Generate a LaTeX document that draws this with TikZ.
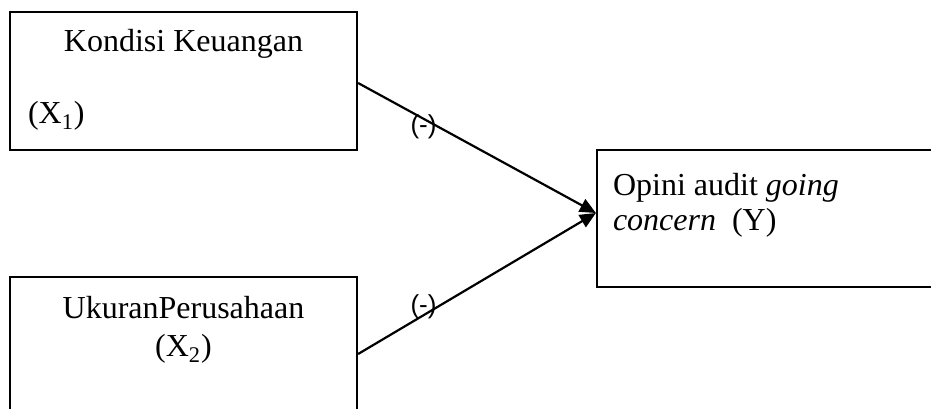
\documentclass[tikz,border=0pt]{standalone}
\usepackage{fontspec}
\setmainfont{Liberation Serif}
\newfontfamily\signfont{Liberation Sans}
\usetikzlibrary{positioning, arrows.meta}

\tikzset{
  varbox/.style={draw, line width=1.1pt, rectangle, inner sep=0pt},
  vartext/.style={font=\fontsize{16}{17.5}\selectfont, inner sep=0pt},
  sign/.style={font=\signfont\fontsize{13}{14}\selectfont, inner sep=0pt},
}

\begin{document}
\begin{tikzpicture}[x=0.5pt, y=-0.5pt, >={Triangle[length=8pt,width=7pt]}, line width=1.1pt]
  \useasboundingbox (0,0) rectangle (931,408);
  % independent variables
  \node[varbox, minimum width=173.5pt, minimum height=69pt] (kondisi) at (183.5,81) {};
  \node[varbox, minimum width=173.5pt, minimum height=77pt] (ukuran) at (183.5,354) {};
  % dependent variable
  \node[varbox, minimum width=174pt, minimum height=68.5pt] (opini) at (771,218.5) {};

  % base of a two-line node is its last line
  \node[vartext, anchor=base] (kondisiname) at ([yshift=-20.5pt]kondisi.north) {Kondisi Keuangan};
  \node[vartext, anchor=base west] (kondisivar) at ([xshift=9pt, yshift=-56.5pt]kondisi.north west) {(X\textsubscript{1})};
  \node[vartext, font=\fontsize{16}{19}\selectfont, align=center, anchor=base] (ukuranname) at ([yshift=-40.5pt]ukuran.north) {UkuranPerusahaan\\(X\textsubscript{2})};
  \node[vartext, align=left, anchor=base west] (opininame) at ([xshift=8pt, yshift=-41pt]opini.north west) {Opini audit \textit{going}\\\textit{concern}\ \ (Y)};

  \draw[->] ([yshift=-1pt]kondisi.east) -- node[sign, pos=0.275, yshift=-4pt] (sign1) {(-)} ([yshift=2.75pt]opini.west);
  \draw[->] (ukuran.east) -- node[sign, pos=0.275, yshift=4pt] (sign2) {(-)} ([yshift=2.75pt]opini.west);
\end{tikzpicture}
\end{document}
